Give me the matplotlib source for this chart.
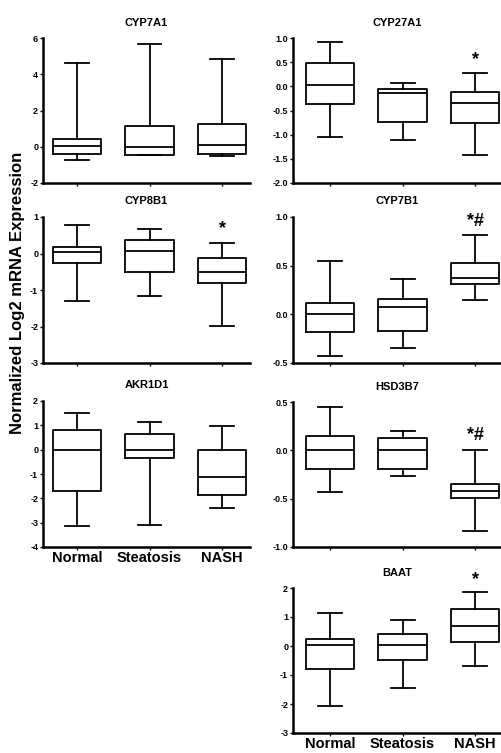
import numpy as np
import matplotlib
matplotlib.use("Agg")
import matplotlib.pyplot as plt

plt.rcParams['font.family'] = ['Liberation Sans', 'DejaVu Sans']
plt.rcParams['font.weight'] = 'bold'

groups = ['Normal', 'Steatosis', 'NASH']
genes = ['CYP7A1', 'CYP8B1', 'AKR1D1', 'CYP27A1', 'CYP7B1', 'HSD3B7', 'BAAT']

# per gene: [whislo, q1, med, q3, whishi] for Normal, Steatosis, NASH
cyp7a1 = [[-0.75, -0.38, 0.03, 0.43, 4.62], [-0.45, -0.45, -0.01, 1.13, 5.69], [-0.53, -0.38, 0.10, 1.24, 4.86]]
cyp8b1 = [[-1.30, -0.27, 0.03, 0.19, 0.77], [-1.17, -0.50, 0.08, 0.38, 0.67], [-1.99, -0.82, -0.52, -0.11, 0.30]]
akr1d1 = [[-3.14, -1.71, -0.02, 0.80, 1.49], [-3.11, -0.36, -0.02, 0.63, 1.15], [-2.40, -1.85, -1.12, -0.02, 0.98]]
cyp27a1 = [[-1.05, -0.36, 0.03, 0.48, 0.91], [-1.12, -0.74, -0.14, -0.06, 0.07], [-1.43, -0.76, -0.34, -0.12, 0.28]]
cyp7b1 = [[-0.43, -0.18, 0.00, 0.12, 0.55], [-0.35, -0.17, 0.08, 0.16, 0.36], [0.15, 0.31, 0.37, 0.53, 0.82]]
hsd3b7 = [[-0.43, -0.19, 0.005, 0.15, 0.45], [-0.27, -0.19, 0.0, 0.13, 0.20], [-0.83, -0.49, -0.42, -0.35, 0.0]]
baat = [[-2.06, -0.79, 0.05, 0.25, 1.14], [-1.45, -0.47, 0.05, 0.43, 0.91], [-0.70, 0.13, 0.70, 1.28, 1.85]]

marks = {'CYP27A1': ('*', 0.55), 'CYP8B1': ('*', 0.67), 'CYP7B1': ('*#', 0.95),
         'HSD3B7': ('*#', 0.15), 'BAAT': ('*', 2.3)}

ylims = {'CYP7A1': (-2, 6), 'CYP8B1': (-3, 1), 'AKR1D1': (-4, 2), 'CYP27A1': (-2, 1),
         'CYP7B1': (-0.5, 1), 'HSD3B7': (-1, 0.5), 'BAAT': (-3, 2)}
yticks = {'CYP7A1': [-2, 0, 2, 4, 6], 'CYP8B1': [-3, -2, -1, 0, 1], 'AKR1D1': [-4, -3, -2, -1, 0, 1, 2],
          'CYP27A1': [-2.0, -1.5, -1.0, -0.5, 0.0, 0.5, 1.0], 'CYP7B1': [-0.5, 0.0, 0.5, 1.0],
          'HSD3B7': [-1.0, -0.5, 0.0, 0.5], 'BAAT': [-3, -2, -1, 0, 1, 2]}
ytlabels = {'CYP7A1': ['-2', '0', '2', '4', '6'], 'CYP8B1': ['-3', '-2', '-1', '0', '1'],
            'AKR1D1': ['-4', '-3', '-2', '-1', '0', '1', '2'],
            'CYP27A1': ['-2.0', '-1.5', '-1.0', '-0.5', '0.0', '0.5', '1.0'],
            'CYP7B1': ['-0.5', '0.0', '0.5', '1.0'], 'HSD3B7': ['-1.0', '-0.5', '0.0', '0.5'],
            'BAAT': ['-3', '-2', '-1', '0', '1', '2']}
data = {'CYP7A1': cyp7a1, 'CYP8B1': cyp8b1, 'AKR1D1': akr1d1, 'CYP27A1': cyp27a1,
        'CYP7B1': cyp7b1, 'HSD3B7': hsd3b7, 'BAAT': baat}

W, H = 502, 753
fig = plt.figure(figsize=(W / 100, H / 100), dpi=100)

# pixel boxes: (left, top, right, bottom)
boxes = {'CYP7A1': (43, 38, 250, 183), 'CYP8B1': (43, 217, 250, 363), 'AKR1D1': (43, 401, 250, 547),
         'CYP27A1': (293, 38, 502, 183), 'CYP7B1': (293, 217, 502, 363), 'HSD3B7': (293, 402, 502, 547),
         'BAAT': (293, 588, 502, 733)}
xl = {'L': (0.531, 3.386), 'R': (0.49, 3.37)}

for g in genes:
    l, t, r, b = boxes[g]
    ax = fig.add_axes([l / W, 1 - b / H, (r - l) / W, (b - t) / H])
    stats = []
    for k, v in enumerate(data[g]):
        stats.append(dict(whislo=v[0], q1=v[1], med=v[2], q3=v[3], whishi=v[4], label=groups[k]))
    lw = 1.3
    ax.bxp(stats, positions=[1, 2, 3], widths=0.67, showfliers=False,
           boxprops=dict(color='black', linewidth=lw),
           whiskerprops=dict(color='black', linewidth=lw),
           capprops=dict(color='black', linewidth=lw),
           medianprops=dict(color='black', linewidth=lw),
           capwidths=0.33)
    side = 'L' if l < 100 else 'R'
    ax.set_xlim(*xl[side])
    ax.set_ylim(*ylims[g])
    ax.set_yticks(yticks[g])
    ax.set_yticklabels(ytlabels[g], fontsize=6.5, fontweight='bold')
    ax.set_xticks([1, 2, 3])
    if g in ('AKR1D1', 'BAAT'):
        ax.set_xticklabels(groups, fontsize=10.5, fontweight='bold')
    else:
        ax.set_xticklabels([])
    ax.tick_params(axis='both', direction='out', length=2.5, width=1, pad=1)
    ax.tick_params(axis='x', length=2, pad=1)
    for s in ('top', 'right'):
        ax.spines[s].set_visible(False)
    for s in ('left', 'bottom'):
        ax.spines[s].set_linewidth(1.8)
    ax.set_title(g, fontsize=8, fontweight='bold', pad=9)
    if g in marks:
        txt, yv = marks[g]
        ax.text(3, yv, txt, ha='center', va='center', fontsize=13, fontweight='bold')

fig.text(18 / W, 1 - 293 / H, 'Normalized Log2 mRNA Expression', rotation=90,
         ha='center', va='center', fontsize=12, fontweight='bold')

fig.savefig('out.png', dpi=100)
